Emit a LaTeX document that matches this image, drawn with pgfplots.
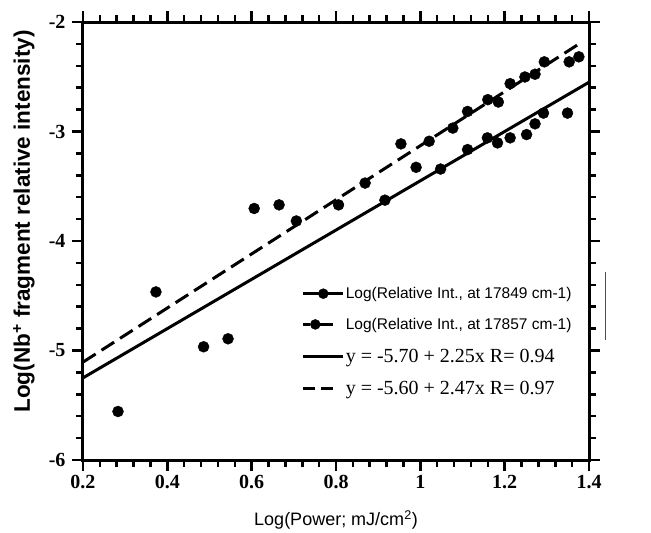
\documentclass[border=0pt]{standalone}
\usepackage{fontspec}
\setmainfont{Liberation Serif}
\newfontfamily\arial{Liberation Sans}
\usepackage{pgfplots}
\pgfplotsset{compat=1.18}

\begin{document}
\begin{tikzpicture}
\begin{axis}[
    scale only axis, width=506pt, height=438pt,
    xmin=0.2, xmax=1.4, ymin=-6, ymax=-2,
    xtick={0.2,0.4,...,1.4}, ytick={-6,-5,-4,-3,-2},
    minor x tick num=4, minor y tick num=4,
    tick align=outside,
    axis line style={line width=3pt},
    every tick/.style={black, line width=2.5pt},
    major tick length=11pt, minor tick length=7pt,
    tick label style={font=\fontsize{20}{20}\selectfont\bfseries},
    /pgf/number format/assume math mode=true,
    xticklabel style={yshift=-1pt},
    yticklabel style={xshift=-3pt},
    xlabel={Log(Power; mJ/cm\textsuperscript{2})},
    ylabel={Log(Nb\textsuperscript{+} fragment relative intensity)},
    xlabel style={font=\arial\fontsize{18}{18}\selectfont, at={(axis description cs:0.5,-0.137)}, anchor=center},
    ylabel style={font=\arial\bfseries\fontsize{22.5}{22.5}\selectfont, at={(axis description cs:-0.117,0.5445)}, anchor=center},
    clip=false,
    legend style={draw=none, fill=none, at={(0.432,0.397)}, anchor=north west,
                  inner sep=0pt, row sep=16pt, nodes={inner sep=1pt}},
    legend cell align=left,
]
% series at 17849 cm-1
\addplot[only marks, mark=*, mark size=5.5pt, black,
    legend image code/.code={\draw[line width=3pt] (0pt,0pt) -- (40pt,0pt); \fill (20pt,0pt) circle (5pt);}]
  coordinates {
    (0.283,-5.557) (0.486,-4.966) (0.544,-4.893) (0.916,-3.627) (0.990,-3.327)
    (1.048,-3.343) (1.112,-3.165) (1.159,-3.058) (1.183,-3.104) (1.213,-3.058)
    (1.252,-3.028) (1.272,-2.930) (1.292,-2.832) (1.349,-2.832)
  };
\addlegendentry{\arial\fontsize{15.5}{15.5}\selectfont Log(Relative Int., at 17849 cm-1)}
% series at 17857 cm-1
\addplot[only marks, mark=*, mark size=5.5pt, black,
    legend image code/.code={\draw[line width=3pt] (0pt,0pt) -- (7pt,0pt); \draw[line width=3pt] (15pt,0pt) -- (30pt,0pt); \fill (12pt,0pt) circle (5pt);}]
  coordinates {
    (0.373,-4.465) (0.606,-3.703) (0.665,-3.670) (0.706,-3.817) (0.806,-3.670)
    (0.869,-3.471) (0.954,-3.113) (1.021,-3.089) (1.077,-2.969) (1.112,-2.817)
    (1.160,-2.709) (1.185,-2.731) (1.213,-2.563) (1.248,-2.502) (1.272,-2.477)
    (1.294,-2.364) (1.353,-2.364) (1.376,-2.318)
  };
\addlegendentry{\arial\fontsize{15.5}{15.5}\selectfont Log(Relative Int., at 17857 cm-1)}
% linear fits
\addplot[black, line width=3pt,
    legend image code/.code={\draw[line width=3pt] (0pt,0pt) -- (40pt,0pt);}]
  coordinates {(0.2,-5.25) (1.4,-2.55)};
\addlegendentry{\fontsize{20}{20}\selectfont y = -5.70 + 2.25x R= 0.94}
\addplot[black, line width=3pt, dash pattern=on 15pt off 7pt,
    legend image code/.code={\draw[line width=3pt] (0pt,0pt) -- (12pt,0pt); \draw[line width=3pt] (18pt,0pt) -- (30pt,0pt);}]
  coordinates {(0.2,-5.106) (1.38,-2.191)};
\addlegendentry{\fontsize{20}{20}\selectfont y = -5.60 + 2.47x R= 0.97}
\draw[black!70, line width=0.8pt] (axis cs:1.440,-4.283) -- (axis cs:1.440,-4.904);
\end{axis}
\path (current axis.south west) ++(-83pt,-72pt) rectangle ++(651pt,532pt);
\end{tikzpicture}
\end{document}
